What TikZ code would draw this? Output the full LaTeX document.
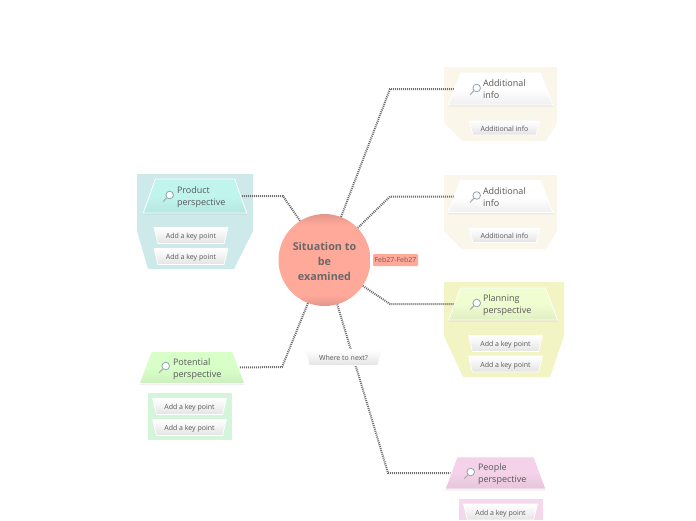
\documentclass[tikz,border=0pt]{standalone}
\usepackage{fontspec}
\setmainfont{Open Sans}
\usetikzlibrary{shapes.geometric, backgrounds, shadows, arrows.meta}
\definecolor{inkgray}{RGB}{88,88,88}
\definecolor{titlegray}{RGB}{105,105,105}
\definecolor{linegray}{RGB}{110,110,110}
\definecolor{ballmid}{RGB}{255,169,155}
\definecolor{balldark}{RGB}{226,150,138}
\definecolor{dateink}{RGB}{135,85,75}
\definecolor{lensblue}{RGB}{140,165,185}
\definecolor{zoneteal}{RGB}{205,233,233}
\definecolor{zonecream}{RGB}{250,246,234}
\definecolor{zoneyellow}{RGB}{243,244,196}
\definecolor{zonegreen}{RGB}{211,245,218}
\definecolor{zonepink}{RGB}{246,216,236}
\definecolor{fillteal}{RGB}{192,245,238}
\definecolor{fillyellow}{RGB}{239,253,208}
\definecolor{fillgreen}{RGB}{217,255,201}
\definecolor{fillpink}{RGB}{244,210,233}
\pgfdeclareverticalshading{ballshade}{100bp}{color(0bp)=(balldark); color(25bp)=(balldark); color(31bp)=(ballmid); color(69bp)=(ballmid); color(75bp)=(balldark); color(100bp)=(balldark)}
\newcommand{\twolines}[2]{\hspace*{13pt}\rule{0pt}{10pt}\mbox{#1}\\\hspace*{13pt}\rule[-2.5pt]{0pt}{1pt}\mbox{#2}}
\begin{document}
\begin{tikzpicture}[
  x=1pt, y=-1pt,
  mainball/.style={circle, shading=ballshade, minimum size=92pt, inner sep=0pt, text=titlegray,
                   font=\fontsize{10.8}{15}\selectfont\bfseries, align=center},
  topic/.style={trapezium, trapezium stretches=true, trapezium left angle=69, trapezium right angle=69,
                draw=white, line width=.8pt, inner sep=0pt, minimum height=32pt, align=left, text=inkgray,
                font=\fontsize{9}{12}\selectfont, top color=#1, bottom color=#1!94!black, middle color=#1,
                drop shadow={shadow xshift=0pt, shadow yshift=-1.5pt, opacity=.12}},
  keypoint/.style={trapezium, trapezium stretches=true, trapezium left angle=108, trapezium right angle=108,
                   draw=white, line width=.7pt, top color=white, bottom color=black!11, middle color=black!5,
                   inner sep=0pt, minimum width=74pt, minimum height=16pt, text=inkgray,
                   text height=7.5pt, text depth=1.5pt, font=\fontsize{7}{8}\selectfont},
  datetag/.style={rectangle, rounded corners=1pt, fill=ballmid, text=dateink, inner sep=0pt,
                  minimum width=45pt, minimum height=12pt, font=\fontsize{7}{8}\selectfont},
  zone/.style={draw=none},
  link/.style={draw=linegray, line width=2pt, dash pattern=on 1pt off 1pt},
  lens/.pic={
    \draw[black!30, line width=1.2pt, line cap=round] (-1.2,1.8) -- (-4.7,5.6);
    \draw[lensblue, fill=white, line width=.8pt] (1.7,-1) circle (3.8);
  }
]
\useasboundingbox (0,0) rectangle (696,520);

\node[mainball] (situation) at (324.5,260) {\rule{0pt}{12pt}Situation to\\be\\examined};
\node[datetag] (datelabel) at (395.5,260) {Feb27-Feb27};

% right side
\node[topic=white, minimum width=105pt, text width=61pt] (addone) at (500.5,89) {\twolines{Additional}{info}};
\node[keypoint, minimum width=71pt, minimum height=14pt] (addonekey) at (504.5,128) {Additional info};
\node[topic=white, minimum width=105pt, text width=61pt] (addtwo) at (500.5,196.5) {\twolines{Additional}{info}};
\node[keypoint, minimum width=71pt, minimum height=14pt] (addtwokey) at (504.5,235.5) {Additional info};
\node[topic=fillyellow, minimum width=110pt, text width=66pt] (planning) at (503,304) {\twolines{Planning}{perspective}};
\node[keypoint] (planningkeya) at (505.5,343.5) {Add a key point};
\node[keypoint] (planningkeyb) at (505.5,364) {Add a key point};
\node[topic=fillpink, minimum width=101pt, text width=61pt] (people) at (495.5,473) {\twolines{People}{perspective}};
\node[keypoint] (peoplekey) at (500.5,512) {Add a key point};

% left side
\node[topic=fillteal, minimum width=104pt, minimum height=34pt, text width=62pt] (product) at (195,196) {\twolines{Product}{perspective}};
\node[keypoint] (productkeya) at (191,235.5) {Add a key point};
\node[keypoint] (productkeyb) at (191,256.5) {Add a key point};
\node[topic=fillgreen, minimum width=106pt, text width=64pt] (potential) at (192,367.5) {\twolines{Potential}{perspective}};
\node[keypoint] (potentialkeya) at (189.5,406.5) {Add a key point};
\node[keypoint] (potentialkeyb) at (189.5,427.5) {Add a key point};

\node[keypoint, minimum width=77pt] (nextstep) at (343.5,357.5) {Where to next?};

\pic at (475,89) {lens};
\pic at (475,196.5) {lens};
\pic at (475,304) {lens};
\pic at (469,473) {lens};
\pic at (168,196) {lens};
\pic at (164,367) {lens};

\coordinate (elbowaddone) at (390,89);
\coordinate (elbowaddtwo) at (390,196.5);
\coordinate (elbowplanning) at (390,304);
\coordinate (elbowpeople) at (388,473);
\coordinate (elbowproduct) at (283,196);
\coordinate (elbowpotential) at (282,367);

\begin{scope}[on background layer]
\fill[zone, zoneteal] (137,174) -- (253,174) -- (253,231) -- (234,269) -- (148,269) -- (137,231) -- cycle;
\fill[zone, zonecream] (444,67) -- (557,67) -- (557,123) -- (546,141) -- (462,141) -- (444,123) -- cycle;
\fill[zone, zonecream] (444,175) -- (557,175) -- (557,231) -- (546,249) -- (462,249) -- (444,231) -- cycle;
\fill[zone, zoneyellow] (444,282) -- (564,282) -- (564,336) -- (550,377) -- (463,377) -- (444,336) -- cycle;
\fill[zone, zonegreen] (147.5,393) rectangle (231.5,440);
\fill[zone, zonepink] (458.5,499) rectangle (543,520);
\draw[link] (situation.69) -- (elbowaddone) -- (addone.west);
\draw[link] (situation.44) -- (elbowaddtwo) -- (addtwo.west);
\draw[link] (situation.-34) -- (elbowplanning) -- (planning.west);
\draw[link] (situation.-74) -- (elbowpeople) -- (people.west);
\draw[link] (situation.122) -- (elbowproduct) -- (product.east);
\draw[link] (situation.-111) -- (elbowpotential) -- (potential.east);
\end{scope}
\end{tikzpicture}
\end{document}
